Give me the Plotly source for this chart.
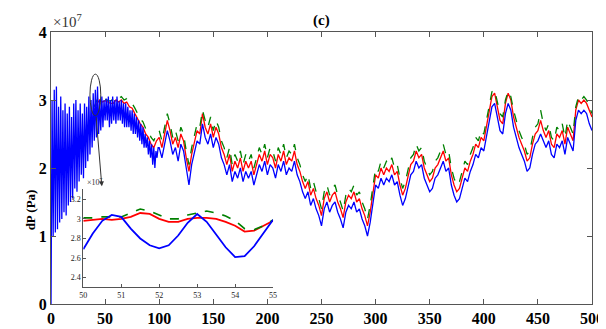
import numpy as np
import plotly.graph_objects as go

# ---------------- data (values in units of 1e7 Pa) ----------------
blue_fast = [0.0, 3.0, 1.0, 3.15, 1.05, 3.2, 1.1, 2.9, 1.2, 3.05,
             1.25, 2.85, 1.35, 2.95, 1.3, 2.8, 1.45, 2.9, 1.5, 2.75,
             1.55, 2.95, 1.7, 3.0, 1.65, 2.85, 1.8, 2.95, 1.9, 2.8,
             1.85, 2.95, 2.0, 2.9, 2.1, 3.05, 2.2, 3.0, 2.3, 3.1,
             2.4, 3.15, 2.45, 3.2, 2.5, 3.0, 2.55, 3.05, 2.6, 3.0,
             2.7, 3.02, 2.7, 3.05, 2.6, 3.0, 2.65, 3.05, 2.7, 3.0,
             2.65, 3.05, 2.7, 2.98, 2.7, 3.0, 2.65, 2.95, 2.6, 2.95,
             2.6, 2.9, 2.6, 2.85, 2.55, 2.85, 2.5, 2.8, 2.5, 2.75,
             2.45, 2.7, 2.4, 2.65, 2.35, 2.6, 2.3, 2.5, 2.3, 2.45,
             2.2, 2.4, 2.15, 2.35, 2.05, 2.3, 2.0, 2.25, 2.15, 2.3]

blue_slow = [2.3, 2.15, 2.35, 2.55, 2.4, 2.2, 2.3, 2.1, 2.35, 2.25,
             2.0, 1.75, 2.05, 2.25, 2.4, 2.35, 2.65, 2.45, 2.35, 2.5,
             2.3, 2.45, 2.35, 2.15, 2.05, 1.9, 2.05, 1.8, 1.95, 1.85,
             2.0, 1.8, 1.95, 1.85, 1.95, 1.75, 1.9, 2.05, 1.95, 2.1,
             1.9, 2.05, 2.0, 1.85, 2.05, 1.95, 2.1, 1.9, 2.0, 1.95,
             2.1, 1.9, 1.8, 1.65, 1.55, 1.65, 1.45, 1.55, 1.4, 1.3,
             1.15, 1.4, 1.5, 1.35, 1.45, 1.5, 1.35, 1.25, 1.12, 1.35,
             1.45, 1.4, 1.5, 1.35, 1.4, 1.25, 1.15, 1.0, 1.2, 1.45,
             1.75, 1.7, 1.85, 1.75, 1.85, 1.8, 1.9, 1.75, 1.8, 1.6,
             1.45, 1.55, 1.75, 1.9, 1.95, 2.1, 2.0, 2.05, 1.85, 1.75,
             1.65, 1.7, 1.85, 1.9, 2.0, 2.1, 1.95, 2.0, 1.75, 1.6,
             1.5, 1.55, 1.7, 1.85, 1.8, 1.95, 2.05, 2.2, 2.15, 2.3,
             2.25, 2.45, 2.65, 2.9, 2.95, 2.75, 2.55, 2.5, 2.8, 2.95,
             2.85, 2.6, 2.45, 2.3, 2.2, 2.1, 1.95, 2.0, 2.2, 2.35,
             2.4, 2.5, 2.4, 2.3, 2.4, 2.2, 2.15, 2.35, 2.3, 2.4,
             2.2, 2.45, 2.35, 2.25, 2.7, 2.85, 2.8, 2.85, 2.8, 2.65,
             2.55]

red_vals = [2.85, 2.95, 3.0, 2.97, 2.99, 2.97, 2.95, 2.95, 3.0, 2.97,
            3.0, 2.95, 2.97, 2.9, 2.88, 2.8, 2.72, 2.65, 2.6, 2.5,
            2.45, 2.35, 2.3, 2.4,
            2.45, 2.3, 2.5, 2.7, 2.55, 2.35, 2.45, 2.3, 2.5, 2.4,
            2.15, 1.95, 2.2, 2.4, 2.55, 2.5, 2.8, 2.6, 2.5, 2.65,
            2.45, 2.6, 2.5, 2.3, 2.2, 2.05, 2.2, 1.95, 2.1, 2.0,
            2.15, 1.95, 2.1, 2.0, 2.1, 1.9, 2.05, 2.2, 2.1, 2.25,
            2.05, 2.2, 2.15, 2.0, 2.2, 2.1, 2.25, 2.05, 2.15, 2.1,
            2.25, 2.05, 1.95, 1.8, 1.7, 1.8, 1.6, 1.7, 1.55, 1.45,
            1.3, 1.55, 1.65, 1.5, 1.6, 1.65, 1.5, 1.4, 1.27, 1.5,
            1.6, 1.55, 1.65, 1.5, 1.55, 1.4, 1.3, 1.15, 1.35, 1.6,
            1.9, 1.85, 2.0, 1.9, 2.0, 1.95, 2.05, 1.9, 1.95, 1.75,
            1.6, 1.7, 1.9, 2.05, 2.1, 2.25, 2.15, 2.2, 2.0, 1.9,
            1.8, 1.85, 2.0, 2.05, 2.15, 2.25, 2.1, 2.15, 1.9, 1.75,
            1.65, 1.7, 1.85, 2.0, 1.95, 2.1, 2.2, 2.35, 2.3, 2.45,
            2.4, 2.6, 2.8, 3.05, 3.1, 2.9, 2.7, 2.65, 2.95, 3.1,
            3.0, 2.75, 2.6, 2.45, 2.35, 2.25, 2.1, 2.15, 2.35, 2.5,
            2.55, 2.7, 2.55, 2.45, 2.55, 2.35, 2.3, 2.5, 2.45, 2.55,
            2.35, 2.6, 2.5, 2.4, 2.85, 3.0, 2.95, 3.0, 2.95, 2.85,
            2.75]

green_vals = [2.9, 3.0, 3.05, 3.02, 3.01, 3.0, 2.98, 3.02, 3.05, 3.02,
              3.05, 3.0, 3.02, 2.97, 2.95, 2.88, 2.8, 2.72, 2.68, 2.58,
              2.55, 2.45, 2.4, 2.5,
              2.55, 2.4, 2.6, 2.8, 2.65, 2.45, 2.55, 2.4, 2.6, 2.5,
              2.25, 2.05, 2.3, 2.5, 2.65, 2.6, 2.85, 2.7, 2.6, 2.75,
              2.55, 2.7, 2.6, 2.4, 2.3, 2.15, 2.3, 2.05, 2.2, 2.1,
              2.25, 2.05, 2.2, 2.1, 2.2, 2.0, 2.15, 2.3, 2.2, 2.35,
              2.15, 2.3, 2.25, 2.1, 2.3, 2.2, 2.35, 2.15, 2.25, 2.2,
              2.35, 2.15, 2.05, 1.9, 1.8, 1.9, 1.7, 1.8, 1.65, 1.55,
              1.4, 1.65, 1.75, 1.6, 1.7, 1.75, 1.6, 1.5, 1.37, 1.6,
              1.7, 1.65, 1.75, 1.6, 1.65, 1.5, 1.4, 1.25, 1.45, 1.7,
              2.0, 1.95, 2.1, 2.0, 2.1, 2.05, 2.15, 2.0, 2.05, 1.85,
              1.7, 1.8, 2.0, 2.15, 2.2, 2.35, 2.25, 2.3, 2.1, 2.0,
              1.9, 1.95, 2.1, 2.15, 2.25, 2.35, 2.2, 2.25, 2.0, 1.85,
              1.75, 1.8, 1.95, 2.1, 2.05, 2.2, 2.3, 2.45, 2.4, 2.55,
              2.5, 2.7, 2.9, 3.12, 3.15, 2.95, 2.8, 2.75, 3.0, 3.13,
              3.05, 2.85, 2.7, 2.55, 2.45, 2.35, 2.2, 2.25, 2.45, 2.6,
              2.65, 2.85, 2.65, 2.55, 2.65, 2.45, 2.4, 2.6, 2.55, 2.65,
              2.45, 2.7, 2.6, 2.5, 2.9, 3.05, 3.0, 3.05, 3.0, 2.9,
              2.8]

# inset (zoom 50-55 s)
inset_t = [50, 50.25, 50.5, 50.75, 51, 51.25, 51.5, 51.75, 52, 52.25, 52.5,
           52.75, 53, 53.25, 53.5, 53.75, 54, 54.25, 54.5, 54.75, 55]
inset_blue = [2.69, 2.85, 2.98, 3.04, 3.02, 2.9, 2.8, 2.73, 2.70, 2.73, 2.83,
              2.96, 3.05, 2.97, 2.84, 2.71, 2.61, 2.62, 2.72, 2.86, 2.99]
inset_red = [2.98, 2.99, 3.0, 2.99, 3.0, 3.02, 3.06, 3.05, 3.0, 2.97, 2.97,
             3.0, 3.01, 3.01, 3.0, 2.97, 2.93, 2.87, 2.88, 2.93, 2.98]
inset_green = [3.01, 3.01, 3.02, 3.02, 3.02, 3.06, 3.1, 3.08, 3.04, 3.0, 3.0,
               3.04, 3.06, 3.08, 3.06, 3.03, 2.98, 2.9, 2.89, 2.93, 2.99]

main_xticks = [0, 50, 100, 150, 200, 250, 300, 350, 400, 450, 500]
main_yticks = [0, 1, 2, 3, 4]
inset_xticks = [50, 51, 52, 53, 54, 55]
inset_yticks = [2.4, 2.6, 2.8, 3.0, 3.2]
inset_yticklabels = ["2.4", "2.6", "2.8", "3", "3.2"]

# ---------------- build ----------------
SCALE = 1e7
t_blue = list(range(len(blue_fast))) + [100 + 2.5 * i for i in range(len(blue_slow))]
y_blue = np.array(blue_fast + blue_slow) * SCALE
t_rg = [40 + 2.5 * i for i in range(len(red_vals))]
t_gg = [40 + 2.5 * i for i in range(len(green_vals))]

fig = go.Figure()
fig.add_trace(go.Scatter(x=t_rg, y=np.array(red_vals) * SCALE, mode="lines",
                         line=dict(color="#ff0000", width=1.3), showlegend=False))
fig.add_trace(go.Scatter(x=t_gg, y=np.array(green_vals) * SCALE, mode="lines",
                         line=dict(color="#008000", width=1.3, dash="dash"), showlegend=False))
fig.add_trace(go.Scatter(x=t_blue, y=y_blue, mode="lines",
                         line=dict(color="#0000ff", width=1.3), showlegend=False))

# inset traces
fig.add_trace(go.Scatter(x=inset_t, y=np.array(inset_red) * SCALE, mode="lines",
                         line=dict(color="#ff0000", width=1.8), xaxis="x2", yaxis="y2",
                         showlegend=False))
fig.add_trace(go.Scatter(x=inset_t, y=np.array(inset_green) * SCALE, mode="lines",
                         line=dict(color="#008000", width=1.6, dash="dash"), xaxis="x2", yaxis="y2",
                         showlegend=False))
fig.add_trace(go.Scatter(x=inset_t, y=np.array(inset_blue) * SCALE, mode="lines",
                         line=dict(color="#0000ff", width=1.8), xaxis="x2", yaxis="y2",
                         showlegend=False))

AX = "#555555"
serif = "Liberation Serif"
fig.update_layout(
    width=606, height=329,
    margin=dict(l=43, r=10, t=24, b=27),
    paper_bgcolor="white", plot_bgcolor="white",
    font=dict(family=serif, color="black"),
    xaxis=dict(range=[0, 500], tickvals=main_xticks, ticktext=[str(v) for v in main_xticks],
               ticks="inside", ticklen=5, tickcolor=AX, showline=True, linecolor=AX,
               linewidth=1, mirror="ticks", showgrid=False, zeroline=False,
               tickfont=dict(family=serif, size=16, weight="bold", color="black")),
    yaxis=dict(range=[0, 4 * SCALE], tickvals=[v * SCALE for v in main_yticks],
               ticktext=[str(v) for v in main_yticks],
               ticks="inside", ticklen=5, tickcolor=AX, showline=True, linecolor=AX,
               linewidth=1, mirror="ticks", showgrid=False, zeroline=False,
               tickfont=dict(family=serif, size=16, weight="bold", color="black")),
    xaxis2=dict(domain=[0.0597, 0.4105], anchor="y2", range=[50, 55], tickvals=inset_xticks,
                ticktext=[str(v) for v in inset_xticks],
                ticks="inside", ticklen=3, tickcolor=AX, showline=True, linecolor=AX,
                linewidth=1, showgrid=False, zeroline=False,
                tickfont=dict(family=serif, size=8, color="#222")),
    yaxis2=dict(domain=[0.061, 0.421], anchor="x2", range=[2.3 * SCALE, 3.3 * SCALE],
                tickvals=[v * SCALE for v in inset_yticks], ticktext=inset_yticklabels,
                ticks="inside", ticklen=3, tickcolor=AX, showline=True, linecolor=AX,
                linewidth=1, showgrid=False, zeroline=False,
                tickfont=dict(family=serif, size=8, color="#222")),
)

# ellipse marking the zoomed region
fig.add_shape(type="circle", xref="x", yref="y", x0=36, x1=46,
              y0=2.77 * SCALE, y1=3.38 * SCALE, line=dict(color="#333333", width=1))
# arrow to inset
fig.add_annotation(x=47, y=1.73 * SCALE, ax=41.6, ay=2.77 * SCALE, xref="x", yref="y",
                   axref="x", ayref="y", text="", showarrow=True, arrowhead=2,
                   arrowsize=1, arrowwidth=1, arrowcolor="#333333")

# texts
fig.add_annotation(x=0.5, y=1, xref="paper", yref="paper", yanchor="bottom", yshift=1,
                   text="<b>(c)</b>", showarrow=False, font=dict(family=serif, size=15))
fig.add_annotation(x=0, y=1, xref="paper", yref="paper", xanchor="left", yanchor="bottom",
                   xshift=0, yshift=0, text="×10<sup>7</sup>", showarrow=False,
                   font=dict(family=serif, size=15, color="#333"))
fig.add_annotation(x=-0.056, y=0.345, xref="paper", yref="paper", textangle=-90,
                   text="<b>dP (Pa)</b>", showarrow=False, font=dict(family=serif, size=13))
fig.add_annotation(x=0.063, y=0.421, xref="paper", yref="paper", xanchor="left",
                   yanchor="bottom", text="×10<sup>7</sup>", showarrow=False,
                   font=dict(family=serif, size=8, color="#333"))

fig.write_html("out.html")
